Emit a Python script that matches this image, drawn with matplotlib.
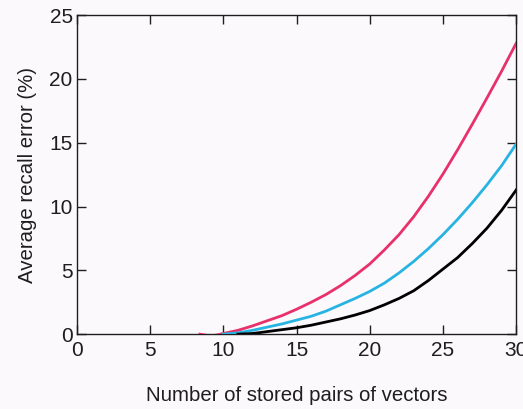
import matplotlib
matplotlib.use("Agg")
import matplotlib.pyplot as plt

plt.rcParams["font.family"] = ["Liberation Sans", "DejaVu Sans"]

# Average recall error (%)
red_x   = [8.4, 9.2, 10, 11, 12, 13, 14, 15, 16, 17, 18, 19, 20,
           21, 22, 23, 24, 25, 26, 27, 28, 29, 30]
red_y   = [0.0, -0.15, 0.05, 0.3, 0.65, 1.05, 1.45, 1.95, 2.5, 3.1, 3.8, 4.6, 5.5,
           6.6, 7.8, 9.2, 10.8, 12.55, 14.45, 16.45, 18.5, 20.6, 22.8]

blue_x  = [10, 11, 12, 13, 14, 15, 16, 17, 18, 19, 20,
           21, 22, 23, 24, 25, 26, 27, 28, 29, 30]
blue_y  = [0.0, 0.1, 0.3, 0.55, 0.8, 1.1, 1.4, 1.8, 2.3, 2.8, 3.35,
           4.0, 4.8, 5.7, 6.7, 7.8, 9.0, 10.3, 11.7, 13.2, 14.9]

black_x = [11, 12, 13, 14, 15, 16, 17, 18, 19, 20,
           21, 22, 23, 24, 25, 26, 27, 28, 29, 30]
black_y = [0.0, 0.05, 0.2, 0.35, 0.5, 0.7, 0.95, 1.2, 1.5, 1.85,
           2.3, 2.8, 3.4, 4.2, 5.1, 6.0, 7.1, 8.3, 9.7, 11.3]

x_ticks = [0, 5, 10, 15, 20, 25, 30]
y_ticks = [0, 5, 10, 15, 20, 25]

BG = "#fcf9fc"
INK = "#1e1e1e"

fig = plt.figure(figsize=(5.23, 4.09), dpi=100, facecolor=BG)
ax = fig.add_axes([0.147, 0.183, 0.840, 0.780], facecolor=BG)

ax.plot(red_x, red_y, color="#e8306a", linewidth=2.0, zorder=3)
ax.plot(blue_x, blue_y, color="#27b4e2", linewidth=2.0, zorder=3)
ax.plot(black_x, black_y, color="black", linewidth=2.0, zorder=4)

ax.set_xlim(0, 30)
ax.set_ylim(0, 25)
ax.set_xticks(x_ticks)
ax.set_yticks(y_ticks)

ax.tick_params(direction="in", length=6.5, width=1.0, top=True, right=True,
               labelsize=15, colors=INK)
ax.tick_params(axis="x", pad=5)
ax.tick_params(axis="y", pad=3)
for s in ax.spines.values():
    s.set_linewidth(1.0)
    s.set_color(INK)

ax.set_xlabel("Number of stored pairs of vectors", fontsize=14.7, labelpad=19,
              color=INK)
ax.set_ylabel("Average recall error (%)", fontsize=14.7, labelpad=9,
              color=INK)

fig.savefig("out.png", dpi=100, facecolor=BG)
